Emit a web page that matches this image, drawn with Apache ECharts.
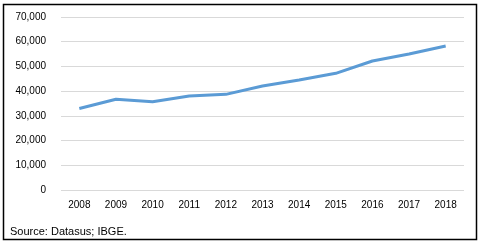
<!DOCTYPE html>
<html>
<head>
<meta charset="utf-8">
<script src="https://cdn.jsdelivr.net/npm/echarts@6/dist/echarts.min.js"></script>
<style>
  body { margin: 0; background: #fff; }
  #lineChart { width: 485px; height: 245px; }
</style>
</head>
<body>
<div id="lineChart"></div>
<script>
var years = ['2008', '2009', '2010', '2011', '2012', '2013', '2014', '2015', '2016', '2017', '2018'];
var values = [33000, 36700, 35700, 38000, 38700, 42100, 44500, 47200, 52200, 55000, 58300];
var sourceText = 'Source: Datasus; IBGE.';

var diagram = echarts.init(document.getElementById('lineChart'));
diagram.setOption({
  animation: false,
  title: {
    text: sourceText,
    left: 5,
    top: 221,
    textStyle: { fontFamily: 'Liberation Sans', fontSize: 11, fontWeight: 'normal', color: '#000' }
  },
  graphic: [{
    type: 'rect',
    shape: { x: 3.5, y: 4.5, width: 473, height: 235 },
    style: { fill: 'none', stroke: '#000', lineWidth: 1.5 },
    silent: true
  }],
  grid: { left: 61, right: 21, top: 17, bottom: 55 },
  xAxis: {
    type: 'category',
    boundaryGap: true,
    data: years,
    axisLine: { show: false },
    axisTick: { show: false },
    axisLabel: { color: '#000', fontFamily: 'Liberation Sans', fontSize: 10, margin: 10 }
  },
  yAxis: {
    type: 'value',
    min: 0,
    max: 70000,
    interval: 10000,
    axisLine: { show: false },
    axisTick: { show: false },
    splitLine: { lineStyle: { color: '#d9d9d9', width: 1 } },
    axisLabel: {
      color: '#000', fontFamily: 'Liberation Sans', fontSize: 10, margin: 15,
      formatter: function (v) { return v.toLocaleString('en-US'); }
    }
  },
  series: [{
    type: 'line',
    data: values,
    symbol: 'none',
    lineStyle: { color: '#5b9bd5', width: 3 }
  }]
});
</script>
</body>
</html>
